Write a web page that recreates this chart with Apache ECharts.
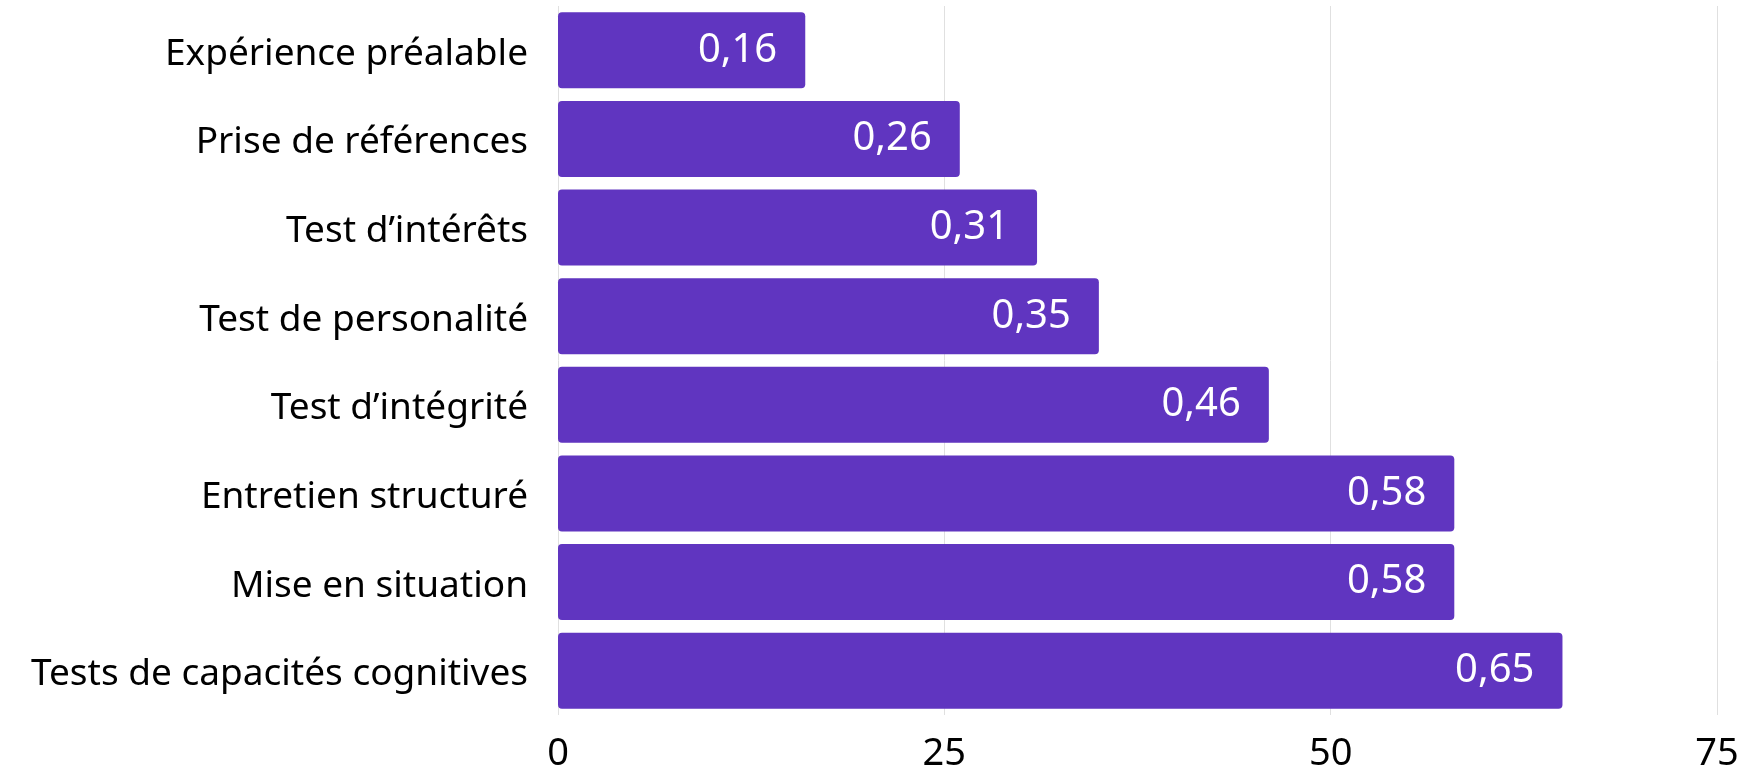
<!DOCTYPE html>
<html>
<head>
<meta charset="utf-8">
<script src="https://cdn.jsdelivr.net/npm/echarts@6/dist/echarts.min.js"></script>
<style>
  html, body { margin: 0; padding: 0; background: #fff; }
  #chart { width: 1760px; height: 768px; }
</style>
</head>
<body>
<div id="chart"></div>
<script>
// categories, top to bottom
const categories = [
  "Expérience préalable",
  "Prise de références",
  "Test d’intérêts",
  "Test de personalité",
  "Test d’intégrité",
  "Entretien structuré",
  "Mise en situation",
  "Tests de capacités cognitives"
];
// values in hundredths (label shows 0,16 etc.)
const values = [16, 26, 31, 35, 46, 58, 58, 65];
const xTicks = [0, 25, 50, 75];

const chart = echarts.init(document.getElementById("chart"));
chart.setOption({
  animation: false,
  textStyle: { fontFamily: "Noto Sans" },
  grid: { left: 558, right: 43, top: 6, bottom: 53, outerBoundsMode: "none" },
  xAxis: {
    type: "value",
    min: xTicks[0],
    max: xTicks[xTicks.length - 1],
    interval: 25,
    axisLine: { show: false },
    axisTick: { show: false },
    splitLine: { lineStyle: { color: "#e0e0e0", width: 1 } },
    axisLabel: { color: "#000", fontSize: 38, margin: 20, fontFamily: "Noto Sans" }
  },
  yAxis: {
    type: "category",
    data: categories,
    inverse: true,
    axisLine: { show: false },
    axisTick: { show: false },
    axisLabel: {
      margin: 30,
      formatter: function (v) { return "{a|" + v + "}"; },
      rich: {
        a: { color: "#000", fontSize: 37, fontFamily: "Noto Sans", padding: [8, 0, 0, 0] }
      }
    }
  },
  series: [{
    type: "bar",
    data: values,
    barWidth: 76,
    itemStyle: { color: "#6035C0", borderRadius: 4 },
    label: {
      show: true,
      position: "insideRight",
      distance: 28,
      color: "#fff",
      fontSize: 40,
      fontFamily: "Noto Sans",
      formatter: function (p) { return (p.value / 100).toFixed(2).replace(".", ","); }
    }
  }]
});
</script>
</body>
</html>
